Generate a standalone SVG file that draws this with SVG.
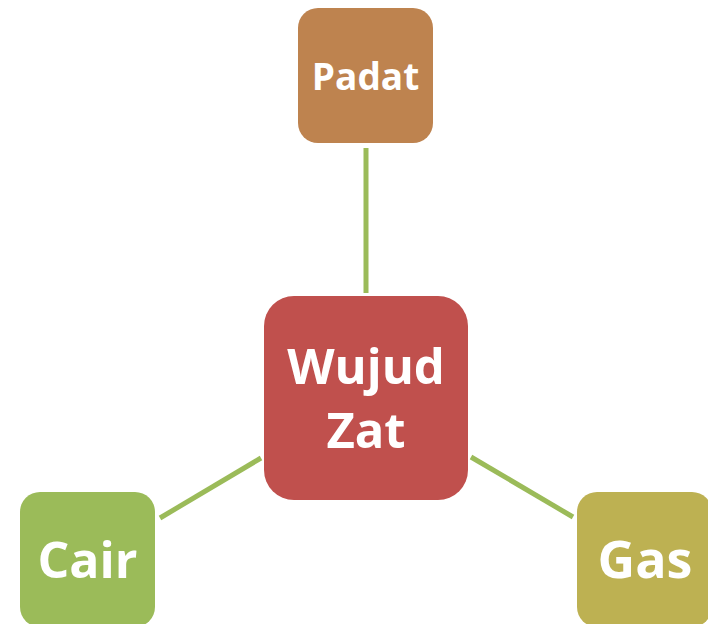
<svg xmlns="http://www.w3.org/2000/svg" width="708" height="624" viewBox="0 0 708 624">
<style>
.lbl{font-family:"Open Sans","Noto Sans","DejaVu Sans",sans-serif;font-weight:bold;fill:#fff;text-anchor:middle}
.edge{stroke:#9BBB59;stroke-width:5;fill:none}
</style>
<rect width="708" height="624" fill="#fff"/>
<g id="connectors">
<line class="edge" x1="366" y1="148" x2="366" y2="293"/>
<line class="edge" x1="160" y1="518" x2="261" y2="458"/>
<line class="edge" x1="471" y1="457" x2="573" y2="517"/>
</g>
<g id="padat">
<rect x="298" y="8" width="135" height="135" rx="20" fill="#BE834F"/>
<text class="lbl" x="365.5" y="90" font-size="37">Padat</text>
</g>
<g id="wujud">
<rect x="264" y="296" width="204" height="204" rx="30" fill="#C0504D"/>
<text class="lbl" x="366" y="384" font-size="49">Wujud</text>
<text class="lbl" x="366" y="448" font-size="49">Zat</text>
</g>
<g id="cair">
<rect x="20" y="492" width="135" height="135" rx="20" fill="#9BBB59"/>
<text class="lbl" x="87.5" y="578" font-size="50">Cair</text>
</g>
<g id="gas">
<rect x="577" y="492" width="135" height="135" rx="20" fill="#BDB152"/>
<text class="lbl" x="645" y="578" font-size="52">Gas</text>
</g>
</svg>
